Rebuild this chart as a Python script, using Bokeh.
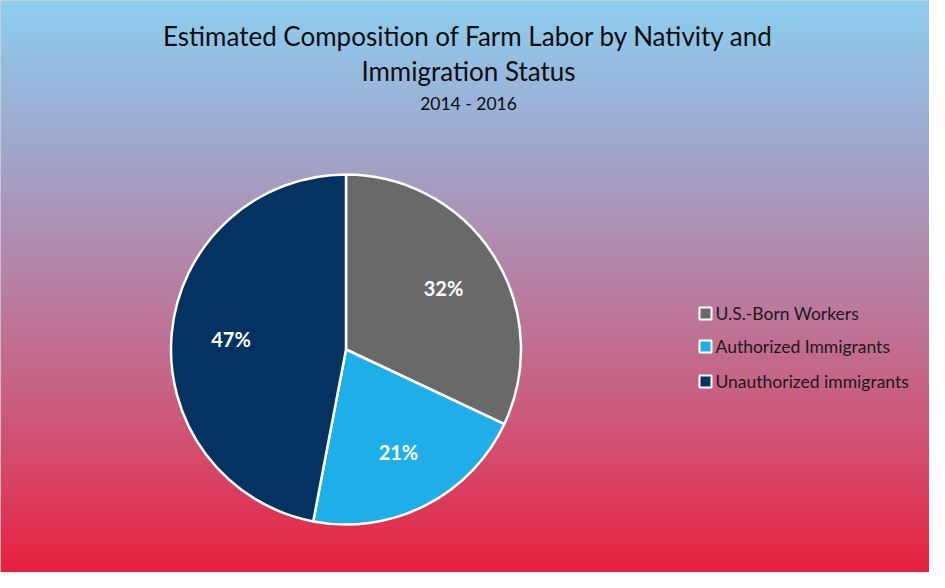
import numpy as np
from bokeh.plotting import figure
from bokeh.models import Range1d, ColumnDataSource
from bokeh.core.properties import value
from bokeh.embed import file_html
from bokeh.resources import INLINE

# ---- data ----
categories = ["U.S.-Born Workers", "Authorized Immigrants", "Unauthorized immigrants"]
shares = [32, 21, 47]
colors = ["#696969", "#1FAFE8", "#053361"]
title_lines = ["Estimated Composition of Farm Labor by Nativity and", "Immigration Status"]
subtitle = "2014 - 2016"

W, H = 929, 572
FONT = "Lato"

p = figure(width=W, height=H, output_backend="svg", toolbar_location=None,
           x_range=Range1d(0, W), y_range=Range1d(0, H), min_border=0,
           tools="")
p.axis.visible = False
p.grid.visible = False
p.outline_line_color = "#d4d4d4"
p.outline_line_width = 3
p.border_fill_color = "#d9d9d9"
p.background_fill_color = "#b48aa8"

# ---- gradient background (decoration) ----
stops_t = [0.0, 0.25, 0.5, 0.75, 1.0]
stops_c = [(141, 207, 240), (160, 168, 206), (184, 128, 162), (207, 86, 120), (233, 32, 63)]
t = np.linspace(1.0, 0.0, H)  # row 0 is bottom -> t=1 (red)
rgb = np.stack([np.interp(t, stops_t, [c[i] for c in stops_c]) for i in range(3)], axis=1)
img = np.empty((H, W), dtype=np.uint32)
view = img.view(dtype=np.uint8).reshape((H, W, 4))
view[:, :, 0] = rgb[:, 0][:, None]
view[:, :, 1] = rgb[:, 1][:, None]
view[:, :, 2] = rgb[:, 2][:, None]
view[:, :, 3] = 255
p.image_rgba(image=[img], x=0, y=0, dw=W, dh=H)

# ---- pie ----
cx, cy, r = 345.5, 223.0, 175.0
vals = np.array(shares, dtype=float)
frac = vals / vals.sum()
cum = np.concatenate([[0], np.cumsum(frac)])
start = np.pi / 2 - 2 * np.pi * cum[:-1]
end = np.pi / 2 - 2 * np.pi * cum[1:]
src = ColumnDataSource(dict(start=start, end=end, color=colors, cat=categories))
p.wedge(x=cx, y=cy, radius=r, start_angle="start", end_angle="end", direction="clock",
        fill_color="color", line_color="white", line_width=2.5, source=src)

mid = (start + end) / 2
lr = r * 0.66
lsrc = ColumnDataSource(dict(x=cx + lr * np.cos(mid), y=cy + lr * np.sin(mid),
                             t=[f"{v}%" for v in shares]))
p.text(x="x", y="y", text="t", source=lsrc, text_color="white", text_font=value(FONT),
       text_font_size="20px", text_font_style="bold", text_align="center",
       text_baseline="middle")

# ---- titles ----
p.text(x=[468, 468], y=[537, 502], text=title_lines, text_font=value(FONT),
       text_font_size="26px", text_color="#0d0d0d", text_align="center",
       text_baseline="middle")
p.text(x=[468], y=[469], text=[subtitle], text_font=value(FONT),
       text_font_size="17.5px", text_color="#0d0d0d", text_align="center",
       text_baseline="middle")

# ---- legend ----
ly = [259, 226, 191]
p.scatter(x=[705] * 3, y=ly, marker="square", size=12, fill_color=colors,
          line_color="white", line_width=2)
p.text(x=[715] * 3, y=ly, text=categories, text_font=value(FONT), text_font_size="17.5px",
       text_color="#1a1a1a", text_align="left", text_baseline="middle")

open("out.html", "w").write(file_html(p, INLINE))
